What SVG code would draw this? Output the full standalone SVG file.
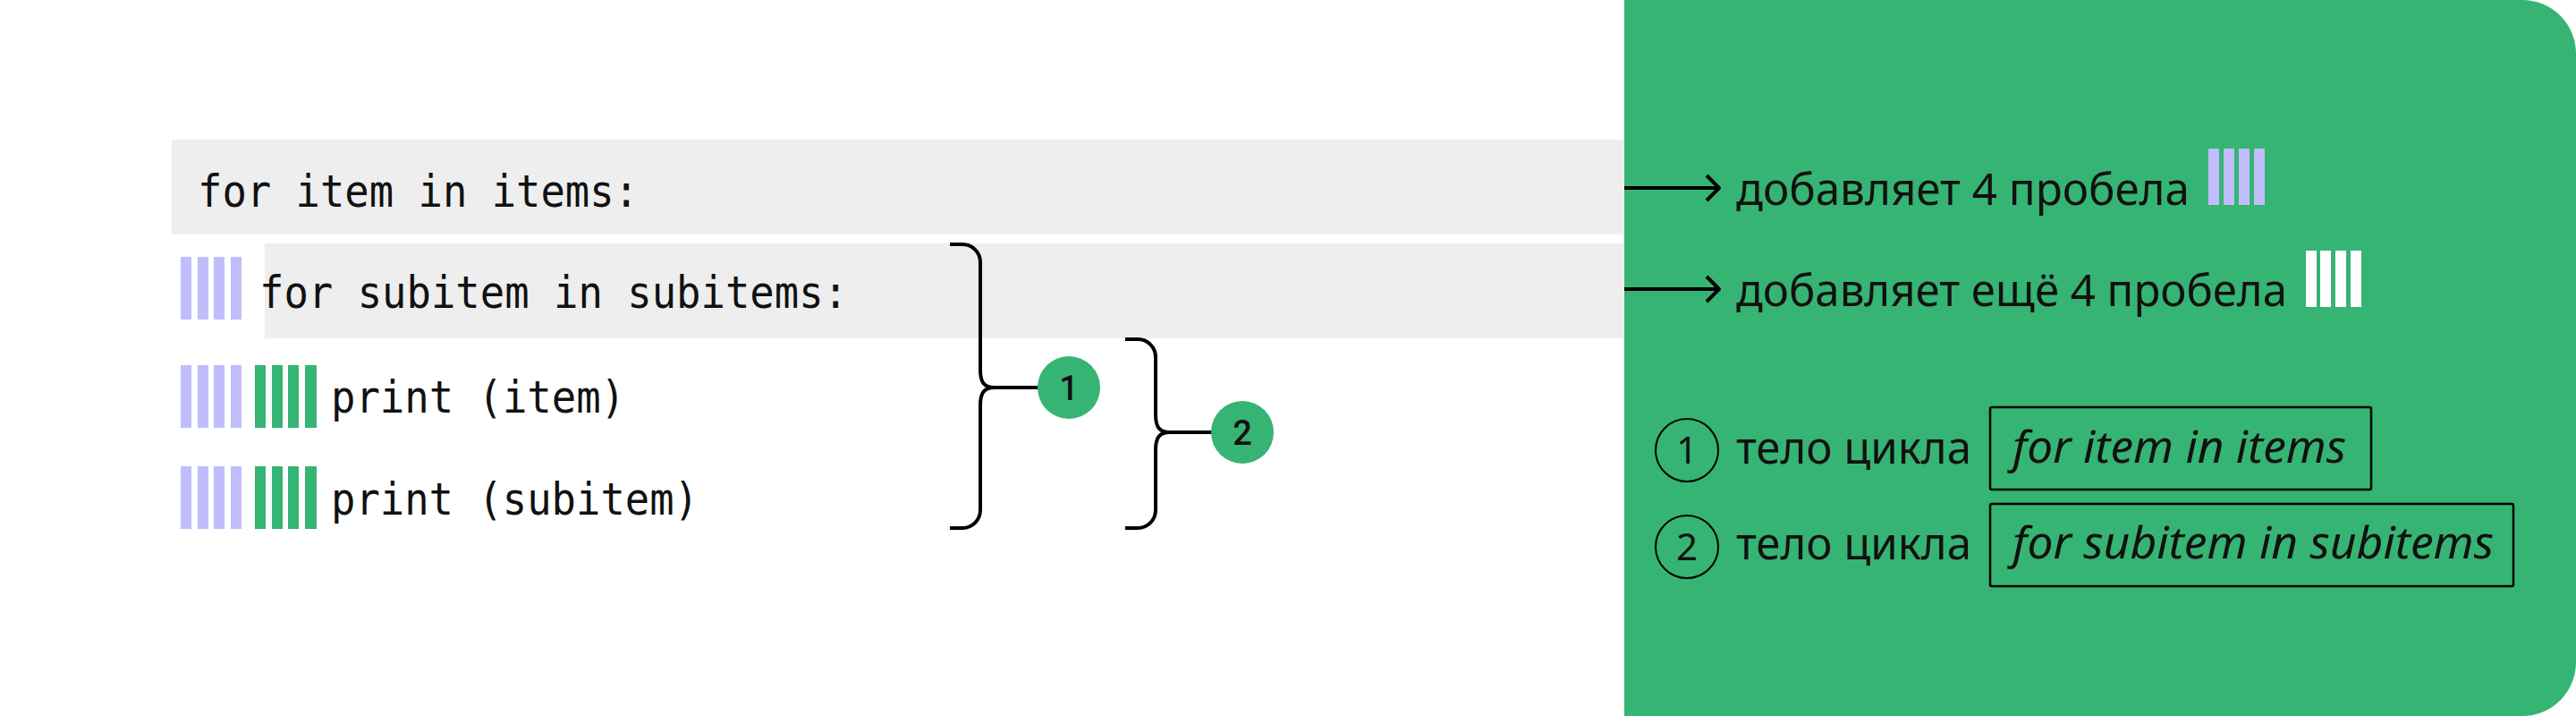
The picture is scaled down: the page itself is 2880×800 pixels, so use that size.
<svg xmlns="http://www.w3.org/2000/svg" width="2880" height="800" viewBox="0 0 2880 800">
  <style>
    .code { font-family: "DejaVu Sans Mono", "Liberation Mono", monospace; font-size: 50px; fill: #111; }
    .txt { font-family: "Noto Sans", "Open Sans", sans-serif; font-size: 50px; fill: #111; }
    .ital { font-family: "Noto Sans", "Open Sans", sans-serif; font-size: 50px; font-style: italic; fill: #111; }
    .num { font-family: "Roboto", "Noto Sans", sans-serif; font-size: 38px; font-weight: 500; fill: #111; text-anchor: middle; }
    .lnum { font-family: "Noto Sans", "Roboto", sans-serif; font-size: 42px; fill: #111; text-anchor: middle; }
    .code-bg { fill: #eeeeee; }
    .pur { fill: #c1bdfc; }
    .grn { fill: #36b473; }
    .wht { fill: #ffffff; }
    .line { fill: none; stroke: #000; stroke-width: 4; stroke-linecap: butt; stroke-linejoin: round; }
    .box { fill: none; stroke: #000; stroke-width: 2.5; }
  </style>
  <defs>
    <g id="pbars">
      <rect class="pur" x="0" y="0" width="12" height="70"/>
      <rect class="pur" x="19" y="0" width="12" height="70"/>
      <rect class="pur" x="37" y="0" width="12" height="70"/>
      <rect class="pur" x="56" y="0" width="12" height="70"/>
    </g>
    <g id="gbars">
      <rect class="grn" x="0" y="0" width="12" height="70"/>
      <rect class="grn" x="19" y="0" width="12" height="70"/>
      <rect class="grn" x="37" y="0" width="12" height="70"/>
      <rect class="grn" x="56" y="0" width="13" height="70"/>
    </g>
  </defs>

  <rect width="2880" height="800" fill="#ffffff"/>

  <g id="code-line-1">
    <rect class="code-bg" x="192" y="156" width="1640" height="106"/>
    <text class="code" x="221" y="231" textLength="493" lengthAdjust="spacingAndGlyphs">for item in items:</text>
  </g>
  <g id="code-line-2">
    <rect class="code-bg" x="296" y="272" width="1540" height="106"/>
    <use href="#pbars" x="202" y="287"/>
    <text class="code" x="290" y="344" textLength="658" lengthAdjust="spacingAndGlyphs">for subitem in subitems:</text>
  </g>
  <g id="code-line-3">
    <use href="#pbars" x="202" y="408"/>
    <use href="#gbars" x="285" y="408"/>
    <text class="code" x="370" y="461" textLength="329" lengthAdjust="spacingAndGlyphs">print (item)</text>
  </g>
  <g id="code-line-4">
    <use href="#pbars" x="202" y="521"/>
    <use href="#gbars" x="285" y="521"/>
    <text class="code" x="370" y="575" textLength="411" lengthAdjust="spacingAndGlyphs">print (subitem)</text>
  </g>

  <g id="panel">
    <path d="M1816,0 H2820 A60,60 0 0 1 2880,60 V740 A60,60 0 0 1 2820,800 H1816 Z" fill="#36b473"/>
  </g>

  <g id="connectors">
    <path class="line" d="M1062,273 H1076 A20,20 0 0 1 1096,293 V413 C1096,427 1100,433 1112,433 C1100,433 1096,439 1096,453 V570 A20,20 0 0 1 1076,590 H1062"/>
    <path class="line" d="M1112,433 H1165"/>
    <path class="line" d="M1258,379 H1272 A20,20 0 0 1 1292,399 V463 C1292,477 1296,483 1308,483 C1296,483 1292,489 1292,503 V570 A20,20 0 0 1 1272,590 H1258"/>
    <path class="line" d="M1308,483 H1360"/>
    <path class="line" d="M1816,210 H1921 M1908,196 L1922,210 L1908,224"/>
    <path class="line" d="M1816,323 H1921 M1908,309 L1922,323 L1908,337"/>
  </g>

  <g id="marker-1">
    <circle cx="1195" cy="433" r="35" fill="#36b473"/>
    <text class="num" x="1195" y="447">1</text>
  </g>
  <g id="marker-2">
    <circle cx="1389" cy="483" r="35" fill="#36b473"/>
    <text class="num" x="1389" y="497">2</text>
  </g>

  <g id="note-1">
    <text class="txt" x="1941" y="229" textLength="507" lengthAdjust="spacingAndGlyphs">добавляет 4 пробела</text>
    <rect class="pur" x="2469" y="166" width="12" height="63"/>
    <rect class="pur" x="2486" y="166" width="12" height="63"/>
    <rect class="pur" x="2503" y="166" width="12" height="63"/>
    <rect class="pur" x="2520" y="166" width="12" height="63"/>
  </g>
  <g id="note-2">
    <text class="txt" x="1941" y="342" textLength="616" lengthAdjust="spacingAndGlyphs">добавляет ещё 4 пробела</text>
    <rect class="wht" x="2578" y="280" width="12" height="63"/>
    <rect class="wht" x="2594" y="280" width="12" height="63"/>
    <rect class="wht" x="2611" y="280" width="12" height="63"/>
    <rect class="wht" x="2628" y="280" width="12" height="63"/>
  </g>

  <g id="legend-1">
    <circle cx="1886" cy="503" r="35" fill="none" stroke="#000" stroke-width="2"/>
    <text class="lnum" x="1886" y="518">1</text>
    <text class="txt" x="1941" y="518" textLength="263" lengthAdjust="spacingAndGlyphs">тело цикла</text>
    <rect class="box" x="2225" y="455" width="426" height="92" rx="2"/>
    <text class="ital" x="2250" y="517" textLength="373" lengthAdjust="spacingAndGlyphs">for item in items</text>
  </g>
  <g id="legend-2">
    <circle cx="1886" cy="611" r="35" fill="none" stroke="#000" stroke-width="2"/>
    <text class="lnum" x="1886" y="626">2</text>
    <text class="txt" x="1941" y="625" textLength="263" lengthAdjust="spacingAndGlyphs">тело цикла</text>
    <rect class="box" x="2225" y="563" width="585" height="92" rx="2"/>
    <text class="ital" x="2250" y="624" textLength="538" lengthAdjust="spacingAndGlyphs">for subitem in subitems</text>
  </g>
</svg>
